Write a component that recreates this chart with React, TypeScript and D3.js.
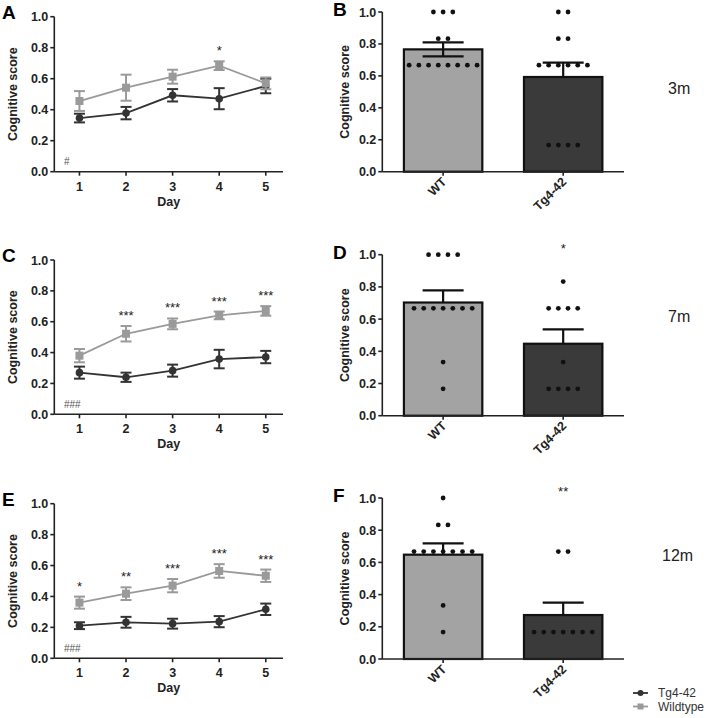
import React from "react";
import * as d3 from "d3";

// ---------- data ----------
const days = [1, 2, 3, 4, 5];
const seriesNames = ["Tg4-42", "Wildtype"];

// Panel A (3m)
const tgA = [0.346, 0.378, 0.493, 0.471, 0.553];
const tgAsem = [0.028, 0.04, 0.04, 0.068, 0.047];
const wtA = [0.456, 0.542, 0.613, 0.684, 0.57];
const wtAsem = [0.064, 0.084, 0.045, 0.028, 0.038];
const starsA = ["", "", "", "*", ""];
const hashA = "#";

// Panel C (7m)
const tgC = [0.27, 0.24, 0.283, 0.358, 0.371];
const tgCsem = [0.039, 0.03, 0.039, 0.06, 0.04];
const wtC = [0.38, 0.522, 0.586, 0.641, 0.67];
const wtCsem = [0.043, 0.05, 0.035, 0.025, 0.031];
const starsC = ["", "***", "***", "***", "***"];
const hashC = "###";

// Panel E (12m)
const tgE = [0.211, 0.233, 0.224, 0.237, 0.317];
const tgEsem = [0.022, 0.035, 0.032, 0.036, 0.037];
const wtE = [0.36, 0.418, 0.47, 0.565, 0.534];
const wtEsem = [0.039, 0.041, 0.043, 0.044, 0.04];
const starsE = ["*", "**", "***", "***", "***"];
const hashE = "###";

// Bar panels
const groups = ["WT", "Tg4-42"];
const barMeanB = [0.766, 0.593];
const barSemB = [0.044, 0.09];
const dotsB_WT = [1, 1, 1, 0.833, 0.833, 0.667, 0.667, 0.667, 0.667, 0.667, 0.667, 0.667, 0.667];
const dotsB_Tg = [1, 1, 0.833, 0.833, 0.667, 0.667, 0.667, 0.667, 0.667, 0.667, 0.167, 0.167, 0.167, 0.167];
const starsB = ["", ""];

const barMeanD = [0.703, 0.447];
const barSemD = [0.075, 0.089];
const dotsD_WT = [1, 1, 1, 1, 0.667, 0.667, 0.667, 0.667, 0.667, 0.667, 0.667, 0.333, 0.167];
const dotsD_Tg = [0.833, 0.667, 0.667, 0.667, 0.667, 0.333, 0.167, 0.167, 0.167, 0.167];
const starsD = ["", "*"];

const barMeanF = [0.648, 0.273];
const barSemF = [0.07, 0.077];
const dotsF_WT = [1, 0.833, 0.833, 0.667, 0.667, 0.667, 0.667, 0.667, 0.667, 0.667, 0.333, 0.167];
const dotsF_Tg = [0.667, 0.667, 0.167, 0.167, 0.167, 0.167, 0.167, 0.167, 0.167];
const starsF = ["", "**"];

const yTicks = [0, 0.2, 0.4, 0.6, 0.8, 1.0];
const ages = ["3m", "7m", "12m"];
const panelLetters = ["A", "B", "C", "D", "E", "F"];

// ---------- style ----------
const FONT = "'Liberation Sans', Arial, Helvetica, sans-serif";
const TG_LINE = "#333333";
const WT_LINE = "#9a9a9a";
const WT_BAR = "#a3a3a3";
const TG_BAR = "#3a3a3a";

type LineProps = {
  top: number; bottom: number; letter: string;
  tg: number[]; tgSem: number[]; wt: number[]; wtSem: number[];
  stars: string[]; hash: string;
};

function LinePanel(p: LineProps) {
  const x = d3.scaleLinear().domain([0.46, 5.37]).range([54.3, 283]);
  const y = d3.scaleLinear().domain([0, 1]).range([p.bottom, p.top]);
  const line = d3.line<number>().x((_, i) => x(days[i])).y((d) => y(d));
  const x0 = x.range()[0];
  const x1 = x.range()[1];
  const cap = 5.5;
  const errBars = (vals: number[], sem: number[], color: string) =>
    vals.map((v, i) => (
      <g key={i} stroke={color} strokeWidth={2}>
        <line x1={x(days[i])} x2={x(days[i])} y1={y(v - sem[i])} y2={y(v + sem[i])} />
        <line x1={x(days[i]) - cap} x2={x(days[i]) + cap} y1={y(v - sem[i])} y2={y(v - sem[i])} />
        <line x1={x(days[i]) - cap} x2={x(days[i]) + cap} y1={y(v + sem[i])} y2={y(v + sem[i])} />
      </g>
    ));
  return (
    <g fontFamily={FONT}>
      <text x={2} y={p.top + 2} fontSize={19} fontWeight="bold">{p.letter}</text>
      {/* y axis */}
      <line x1={x0} x2={x0} y1={p.top} y2={p.bottom} stroke="#222" strokeWidth={1.6} />
      {yTicks.map((t) => (
        <g key={t}>
          <line x1={x0 - 4} x2={x0} y1={y(t)} y2={y(t)} stroke="#222" strokeWidth={1.6} />
          <text x={x0 - 6} y={y(t) + 4.5} textAnchor="end" fontSize={12.5} fontWeight="bold" fill="#222">{t.toFixed(1)}</text>
        </g>
      ))}
      <text transform={`translate(17,${(p.top + p.bottom) / 2}) rotate(-90)`} textAnchor="middle" fontSize={12.5} fontWeight="bold" fill="#222">Cognitive score</text>
      {/* x axis */}
      <line x1={x0} x2={x1} y1={p.bottom} y2={p.bottom} stroke="#222" strokeWidth={1.6} />
      {days.map((d) => (
        <g key={d}>
          <line x1={x(d)} x2={x(d)} y1={p.bottom} y2={p.bottom + 4} stroke="#222" strokeWidth={1.6} />
          <text x={x(d)} y={p.bottom + 19} textAnchor="middle" fontSize={12.5} fontWeight="bold" fill="#222">{d}</text>
        </g>
      ))}
      <text x={(x0 + x1) / 2} y={p.bottom + 34} textAnchor="middle" fontSize={12.5} fontWeight="bold" fill="#222">Day</text>
      {/* series */}
      <path d={line(p.tg) || ""} fill="none" stroke={TG_LINE} strokeWidth={1.8} />
      {errBars(p.tg, p.tgSem, TG_LINE)}
      {p.tg.map((v, i) => <circle key={i} cx={x(days[i])} cy={y(v)} r={3.8} fill={TG_LINE} />)}
      <path d={line(p.wt) || ""} fill="none" stroke={WT_LINE} strokeWidth={1.8} />
      {errBars(p.wt, p.wtSem, WT_LINE)}
      {p.wt.map((v, i) => <rect key={i} x={x(days[i]) - 4} y={y(v) - 4} width={8} height={8} fill={WT_LINE} />)}
      {p.stars.map((s, i) => s ? (
        <text key={i} x={x(days[i])} y={y(p.wt[i] + p.wtSem[i]) - 6} textAnchor="middle" fontSize={13} fill="#222">{s}</text>
      ) : null)}
      <text x={64} y={p.bottom - 6.5} fontSize={10} fill="#555">{p.hash}</text>
    </g>
  );
}

type BarProps = {
  top: number; bottom: number; letter: string;
  means: number[]; sems: number[]; dots: number[][]; stars: string[]; both: boolean[];
};

function BarPanel(p: BarProps) {
  const xb = d3.scaleBand<string>().domain(groups).range([382.3, 624]).paddingInner(0.347).paddingOuter(0.18);
  const y = d3.scaleLinear().domain([0, 1]).range([p.bottom, p.top]);
  const x0 = 382.3;
  const fills = [WT_BAR, TG_BAR];
  const bw = xb.bandwidth();
  const cap = 20.5;
  const spacing = 9.7;
  return (
    <g fontFamily={FONT}>
      <text x={333} y={p.top + 4} fontSize={19} fontWeight="bold">{p.letter}</text>
      {groups.map((g, i) => {
        const cx = (xb(g) as number) + bw / 2;
        const m = p.means[i];
        const s = p.sems[i];
        const vals = Array.from(new Set(p.dots[i]));
        return (
          <g key={g}>
            <rect x={xb(g)} y={y(m)} width={bw} height={y(0) - y(m)} fill={fills[i]} stroke="#111" strokeWidth={2.2} />
            <g stroke="#111" strokeWidth={2.2}>
              <line x1={cx} x2={cx} y1={y(p.both[i] ? m - s : m)} y2={y(m + s)} />
              <line x1={cx - cap} x2={cx + cap} y1={y(m + s)} y2={y(m + s)} />
              {p.both[i] ? <line x1={cx - cap} x2={cx + cap} y1={y(m - s)} y2={y(m - s)} /> : null}
            </g>
            {vals.map((v) => {
              const n = p.dots[i].filter((d) => d === v).length;
              return d3.range(n).map((k) => (
                <circle key={`${v}-${k}`} cx={cx + (k - (n - 1) / 2) * spacing} cy={y(v)} r={2.4} fill="#111" />
              ));
            })}
            {p.stars[i] ? (
              <text x={cx} y={y(1.0) - 0 + (p.top - y(1.0)) - 2} textAnchor="middle" fontSize={13} fill="#222">{p.stars[i]}</text>
            ) : null}
            <line x1={cx} x2={cx} y1={p.bottom} y2={p.bottom + 4} stroke="#222" strokeWidth={1.6} />
            <text transform={`translate(${cx + 4},${p.bottom + 11}) rotate(-45)`} textAnchor="end" fontSize={12.5} fontWeight="bold" fill="#222">{g}</text>
          </g>
        );
      })}
      <line x1={x0} x2={x0} y1={p.top} y2={p.bottom} stroke="#222" strokeWidth={1.6} />
      {yTicks.map((t) => (
        <g key={t}>
          <line x1={x0 - 4} x2={x0} y1={y(t)} y2={y(t)} stroke="#222" strokeWidth={1.6} />
          <text x={x0 - 6} y={y(t) + 4.5} textAnchor="end" fontSize={12.5} fontWeight="bold" fill="#222">{t.toFixed(1)}</text>
        </g>
      ))}
      <text transform={`translate(349,${(p.top + p.bottom) / 2}) rotate(-90)`} textAnchor="middle" fontSize={12.5} fontWeight="bold" fill="#222">Cognitive score</text>
      <line x1={x0} x2={624} y1={p.bottom} y2={p.bottom} stroke="#222" strokeWidth={1.6} />
    </g>
  );
}

export default function App() {
  return (
    <svg width={708} height={718} style={{ position: "absolute", left: 0, top: 0, background: "#fff" }}>
      <rect width={708} height={718} fill="#fff" />
      <LinePanel top={16.7} bottom={171.7} letter={panelLetters[0]} tg={tgA} tgSem={tgAsem} wt={wtA} wtSem={wtAsem} stars={starsA} hash={hashA} />
      <LinePanel top={260} bottom={414.3} letter={panelLetters[2]} tg={tgC} tgSem={tgCsem} wt={wtC} wtSem={wtCsem} stars={starsC} hash={hashC} />
      <LinePanel top={503.7} bottom={658.3} letter={panelLetters[4]} tg={tgE} tgSem={tgEsem} wt={wtE} wtSem={wtEsem} stars={starsE} hash={hashE} />
      <BarPanel top={12} bottom={171.7} letter={panelLetters[1]} means={barMeanB} sems={barSemB} dots={[dotsB_WT, dotsB_Tg]} stars={starsB} both={[true, false]} />
      <BarPanel top={254.7} bottom={415.7} letter={panelLetters[3]} means={barMeanD} sems={barSemD} dots={[dotsD_WT, dotsD_Tg]} stars={starsD} both={[false, false]} />
      <BarPanel top={498} bottom={659} letter={panelLetters[5]} means={barMeanF} sems={barSemF} dots={[dotsF_WT, dotsF_Tg]} stars={starsF} both={[false, false]} />
      <g fontFamily={FONT} fontSize={16} fill="#222">
        <text x={668} y={94}>{ages[0]}</text>
        <text x={668} y={322}>{ages[1]}</text>
        <text x={662} y={561}>{ages[2]}</text>
      </g>
      <g fontFamily={FONT} fontSize={12} fill="#333">
        <line x1={633} x2={648} y1={693} y2={693} stroke={TG_LINE} strokeWidth={1.8} />
        <circle cx={640.5} cy={693} r={3} fill={TG_LINE} />
        <text x={658} y={697}>{seriesNames[0]}</text>
        <line x1={633} x2={648} y1={706.5} y2={706.5} stroke={WT_LINE} strokeWidth={1.8} />
        <rect x={637.5} y={703.5} width={6} height={6} fill={WT_LINE} />
        <text x={658} y={710.5}>{seriesNames[1]}</text>
      </g>
    </svg>
  );
}
